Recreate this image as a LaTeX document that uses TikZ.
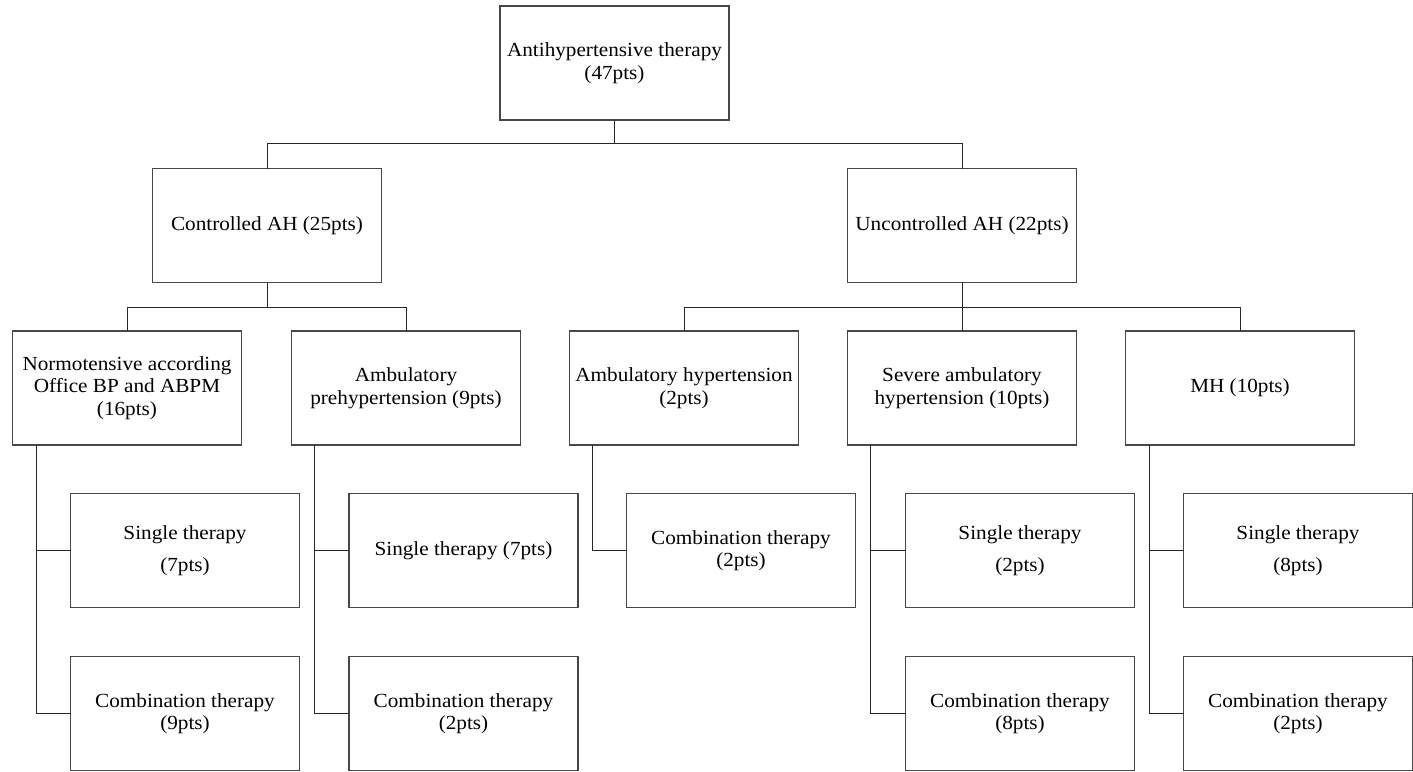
\documentclass[tikz,border=0pt]{standalone}
\usepackage{fontspec}
\setmainfont{Liberation Serif}[FakeStretch=1.06]
\begin{document}
\begin{tikzpicture}[x=1pt,y=-1pt,
  box/.style={draw=black!72,line width=1.3pt,minimum width=229pt,minimum height=114pt,
    inner sep=2pt,outer sep=0pt,align=center,font=\fontsize{20}{22.5}\selectfont},
  link/.style={draw=black!85,line width=1pt}]
\useasboundingbox (0,0) rectangle (1413,771);
% level 1
\node[box] (top) at (614.5,63) {Antihypertensive therapy\\(47pts)};
% level 2
\node[box] (ctrl) at (267,225.5) {Controlled AH (25pts)};
\node[box] (unc) at (962,225.5) {Uncontrolled AH (22pts)};
% level 3
\node[box] (n1) at (127,388) {Normotensive according\\Office BP and ABPM\\(16pts)};
\node[box] (n2) at (406,388) {Ambulatory\\prehypertension (9pts)};
\node[box] (n3) at (684,388) {Ambulatory hypertension\\(2pts)};
\node[box] (n4) at (962,388) {Severe ambulatory\\hypertension (10pts)};
\node[box] (n5) at (1240,388) {MH (10pts)};
% level 4
\node[box] (s1) at (185,550.5) {Single therapy\\[9pt](7pts)};
\node[box] (c1) at (185,713.5) {Combination therapy\\(9pts)};
\node[box] (s2) at (463.5,550.5) {Single therapy (7pts)};
\node[box] (c2) at (463.5,713.5) {Combination therapy\\(2pts)};
\node[box] (s3) at (741,550.5) {Combination therapy\\(2pts)};
\node[box] (s4) at (1020,550.5) {Single therapy\\[9pt](2pts)};
\node[box] (c4) at (1020,713.5) {Combination therapy\\(8pts)};
\node[box] (s5) at (1298,550.5) {Single therapy\\[9pt](8pts)};
\node[box] (c5) at (1298,713.5) {Combination therapy\\(2pts)};
% connectors level 1-2
\coordinate (j0) at (614.5,143.5);
\draw[link] (top.south) -- (j0);
\draw[link] (j0) -| (ctrl.north);
\draw[link] (j0) -| (unc.north);
% level 2-3
\coordinate (j1) at (267,307);
\draw[link] (ctrl.south) -- (j1);
\draw[link] (j1) -| (n1.north);
\draw[link] (j1) -| (n2.north);
\coordinate (j2) at (962,307);
\draw[link] (unc.south) -- (j2);
\draw[link] (j2) -| (n3.north);
\draw[link] (j2) -- (n4.north);
\draw[link] (j2) -| (n5.north);
% level 3-4
\draw[link] ([xshift=24pt]n1.south west) |- (s1.west);
\draw[link] ([xshift=24pt]n1.south west) |- (c1.west);
\draw[link] ([xshift=23pt]n2.south west) |- (s2.west);
\draw[link] ([xshift=23pt]n2.south west) |- (c2.west);
\draw[link] ([xshift=23pt]n3.south west) |- (s3.west);
\draw[link] ([xshift=23pt]n4.south west) |- (s4.west);
\draw[link] ([xshift=23pt]n4.south west) |- (c4.west);
\draw[link] ([xshift=24pt]n5.south west) |- (s5.west);
\draw[link] ([xshift=24pt]n5.south west) |- (c5.west);
\end{tikzpicture}
\end{document}
